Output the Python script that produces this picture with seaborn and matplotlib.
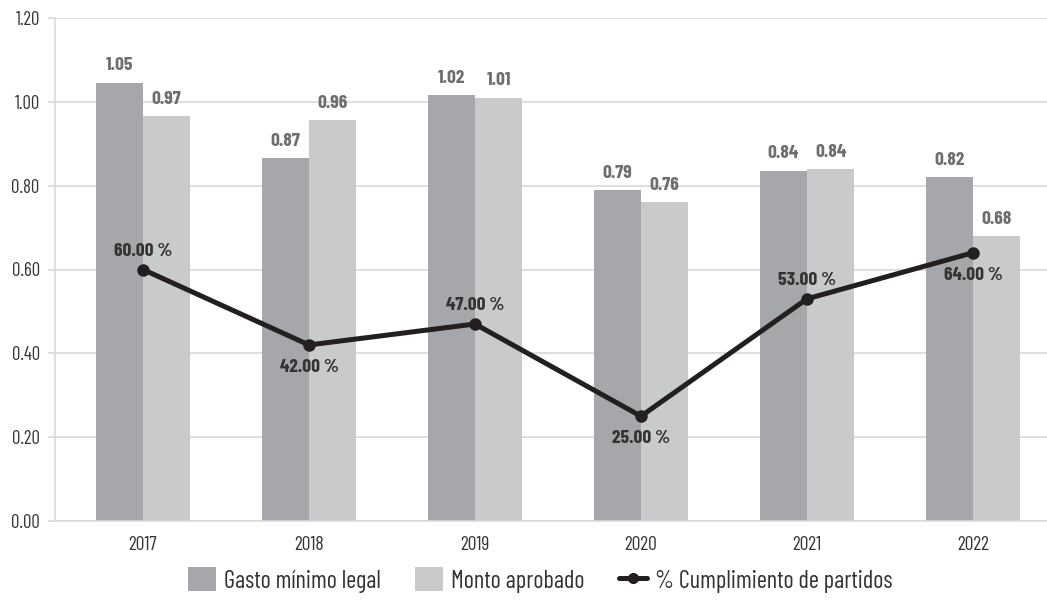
import matplotlib
matplotlib.use("Agg")
import matplotlib.pyplot as plt
from matplotlib import font_manager
from matplotlib.lines import Line2D
from matplotlib.patches import Patch
import seaborn as sns
import pandas as pd
import numpy as np

years = ["2017", "2018", "2019", "2020", "2021", "2022"]
gasto_minimo = [1.046, 0.866, 1.016, 0.79, 0.836, 0.82]
monto_aprobado = [0.966, 0.956, 1.01, 0.76, 0.84, 0.68]
cumplimiento_pct = [60.0, 42.0, 47.0, 25.0, 53.0, 64.0]
series_names = ["Gasto mínimo legal", "Monto aprobado"]
line_name = "% Cumplimiento de partidos"
y_ticks = [0.0, 0.2, 0.4, 0.6, 0.8, 1.0, 1.2]

c_dark = "#a6a7aa"
c_light = "#c9cacc"
c_line = "#231f20"

sns.set_theme(style="white")
avail = {f.name for f in font_manager.fontManager.ttflist}
fam = "DejaVu Sans"
for cand in ["Barlow Condensed", "Barlow Semi Condensed", "Archivo Narrow", "Roboto"]:
    if cand in avail:
        fam = cand
        break
plt.rcParams["font.family"] = [fam, "DejaVu Sans"]

df = pd.DataFrame({
    "year": years * 2,
    "value": gasto_minimo + monto_aprobado,
    "serie": [series_names[0]] * len(years) + [series_names[1]] * len(years),
})

fig = plt.figure(figsize=(10.47, 6.09), dpi=100)
ax = fig.add_axes([55 / 1047, 1 - 521 / 609, (1047 - 55) / 1047, (521 - 18) / 609])

sns.barplot(data=df, x="year", y="value", hue="serie", order=years,
            hue_order=series_names, palette=[c_dark, c_light], saturation=1,
            width=0.57, gap=0, ax=ax, legend=False, errorbar=None, linewidth=0)

x_idx = np.arange(len(years))
pct_vals = np.array(cumplimiento_pct) / 100
sns.lineplot(x=x_idx, y=pct_vals, color=c_line, linewidth=3.6, marker="o",
             markersize=9, markeredgewidth=0, ax=ax, legend=False, zorder=5)

# bar labels
for cont in ax.containers:
    ax.bar_label(cont, labels=[f"{b.get_height():.2f}" for b in cont], padding=6,
                 fontsize=14, fontweight="bold", color="#6d6e71")

# line labels: above or below
above = [True, False, True, False, True, False]
for xi, v, up in zip(x_idx, cumplimiento_pct, above):
    ax.annotate(f"{v:.2f} %", (xi, v / 100), xytext=(0, 7 if up else -10),
                textcoords="offset points", ha="center",
                va="bottom" if up else "top", fontsize=14, fontweight="bold",
                color="#333333", zorder=6)

ax.set_ylim(0, 1.2)
ax.set_xlim(-0.53, 5.446)
ax.set_yticks(y_ticks)
ax.set_yticklabels([f"{t:.2f}" for t in y_ticks])
ax.yaxis.grid(True, color="#d9d9d9", linewidth=1.2)
ax.set_axisbelow(True)
ax.set_xlabel("")
ax.set_ylabel("")
for s in ["top", "right"]:
    ax.spines[s].set_visible(False)
ax.spines["left"].set_color("#d9d9d9")
ax.spines["bottom"].set_color("#d9d9d9")
ax.spines["left"].set_linewidth(1.2)
ax.spines["bottom"].set_linewidth(1.2)
ax.tick_params(axis="y", left=True, length=5, color="#d9d9d9", labelsize=13.5,
               labelcolor="#333333", pad=6)
ax.tick_params(axis="x", bottom=False, labelsize=14, labelcolor="#333333", pad=5)

handles = [Patch(facecolor=c_dark, edgecolor="none"),
           Patch(facecolor=c_light, edgecolor="none"),
           Line2D([0], [0], color=c_line, linewidth=3.6, marker="o", markersize=7)]
fig.legend(handles, series_names + [line_name], loc="center", ncol=3,
           bbox_to_anchor=(0.516, 1 - 580 / 609), frameon=False, fontsize=17.5,
           handlelength=1.15, handleheight=1.15, handletextpad=0.35, columnspacing=1.4,
           labelcolor="#333333")

fig.savefig("out.png", dpi=100)
